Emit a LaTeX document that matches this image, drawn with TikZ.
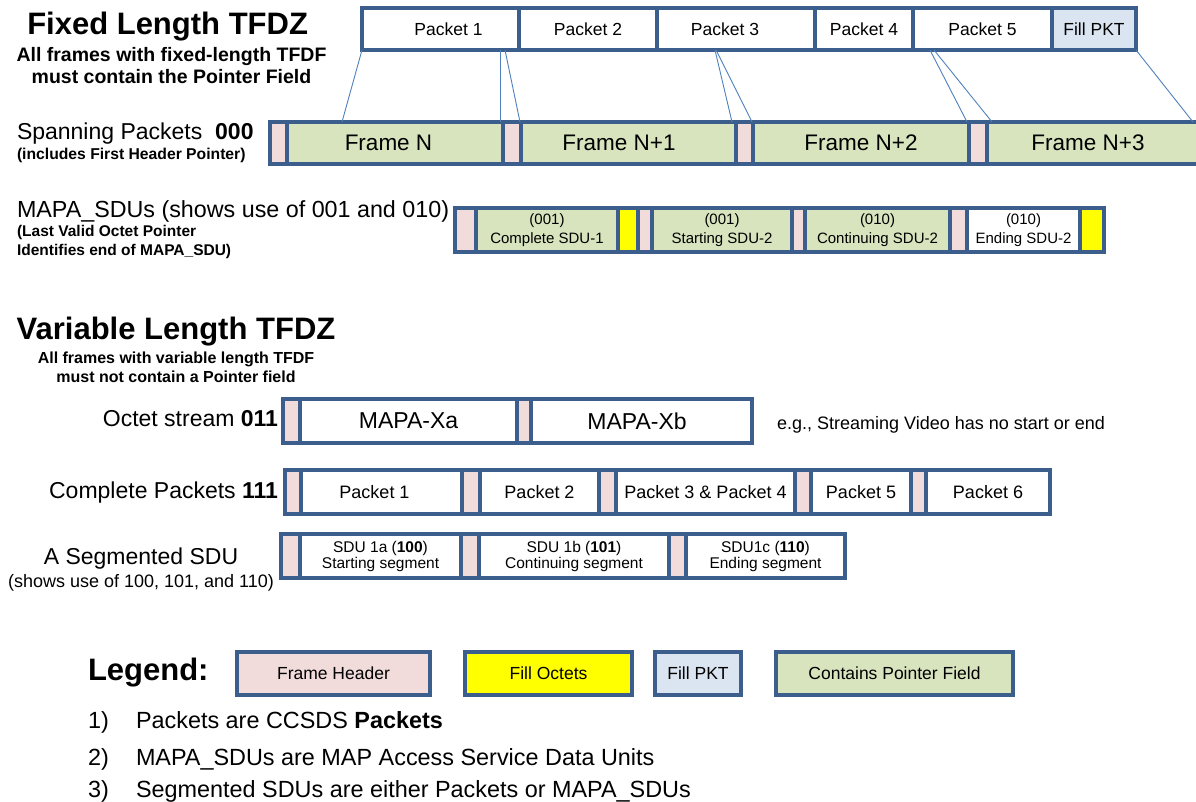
\documentclass[tikz,border=0pt]{standalone}
\usepackage{fontspec}
\setmainfont{Liberation Sans}
\usetikzlibrary{calc}

\definecolor{edge}{HTML}{3B5E8C}
\definecolor{hdrpink}{HTML}{F2DCDB}
\definecolor{ptrgreen}{HTML}{D7E4BD}
\definecolor{fillyel}{HTML}{FFFF00}
\definecolor{pktblue}{HTML}{DBE5F1}
\definecolor{linkblue}{HTML}{4F81BD}

\newcommand\fsz[2]{\fontsize{#1pt}{#2pt}\selectfont}
% \mkcell{style}{name}{x1}{x2}{y1}{y2}{text}
\newcommand\mkcell[7]{\node[#1,minimum width={#4-#3},minimum height={#6-#5}] (#2) at ({(#3+#4)/2},{(#5+#6)/2}) {#7};}

\tikzset{
  cell/.style={draw=edge, line width=3.5pt, inner sep=0pt, outer sep=0pt},
  hdr/.style={cell, fill=hdrpink},
  ptr/.style={cell, fill=ptrgreen},
  octs/.style={cell, fill=fillyel},
  fpkt/.style={cell, fill=pktblue},
  blank/.style={cell, fill=white},
  twoline/.style={align=center},
  lbl/.style={inner sep=0pt, outer sep=0pt},
  maplink/.style={draw=linkblue, line width=0.9pt},
}

\begin{document}
\begin{tikzpicture}[x=1pt,y=-1pt]
\fill[white] (0,0) rectangle (1196,802);
\useasboundingbox (0,0) rectangle (1196,802);

% ---------------- Fixed length section ----------------
\node[lbl, anchor=base, font=\bfseries\fsz{31}{37}] (fixT) at (167.6,35) {Fixed Length TFDZ};
\node[lbl, anchor=base, font=\bfseries\fsz{19.5}{23}] (fixS1) at (171.5,62) {All frames with fixed-length TFDF};
\node[lbl, anchor=base, font=\bfseries\fsz{19.5}{23}] (fixS2) at (171.5,84) {must contain the Pointer Field};

% packet stream
\mkcell{blank, font=\fsz{17.5}{21}}{pk1}{362}{519}{8}{50}{\kern16pt Packet 1}
\mkcell{blank, font=\fsz{17.5}{21}}{pk2}{519}{657}{8}{50}{Packet 2}
\mkcell{blank, font=\fsz{17.5}{21}}{pk3}{657}{815}{8}{50}{Packet 3\kern22pt}
\mkcell{blank, font=\fsz{17.5}{21}}{pk4}{815}{913}{8}{50}{Packet 4}
\mkcell{blank, font=\fsz{17.5}{21}}{pk5}{913}{1052}{8}{50}{Packet 5}
\mkcell{fpkt, font=\fsz{17.5}{21}}{pkf}{1052}{1136}{8}{50}{Fill PKT}

% spanning packets frames
\node[lbl, anchor=base west, font=\fsz{23}{27}] (spanL) at (17,140) {Spanning Packets\ \ \textbf{000}};
\node[lbl, anchor=base west, font=\bfseries\fsz{15.7}{18}] (spanS) at (17,160) {(includes First Header Pointer)};
\mkcell{hdr}{fh0}{270}{287}{122}{164}{}
\mkcell{ptr, font=\fsz{22.5}{27}}{fN}{287}{503}{122}{164}{Frame N\kern13pt}
\mkcell{hdr}{fh1}{503}{521}{122}{164}{}
\mkcell{ptr, font=\fsz{22.5}{27}}{fNa}{521}{736}{122}{164}{Frame N+1\kern19pt}
\mkcell{hdr}{fh2}{736}{753}{122}{164}{}
\mkcell{ptr, font=\fsz{22.5}{27}}{fNb}{753}{969}{122}{164}{Frame N+2}
\mkcell{hdr}{fh3}{969}{987}{122}{164}{}
\mkcell{ptr, font=\fsz{22.5}{27}}{fNc}{987}{1212}{122}{164}{Frame N+3\kern23pt}

% packet boundaries mapped into frames
\draw[maplink] (pk1.south west) -- ([xshift=55pt]fN.north west);
\draw[maplink] ([xshift=138pt]pk1.south west) -- ([xshift=-3pt]fN.north east);
\draw[maplink] ([xshift=143pt]pk1.south west) -- ([xshift=-1pt]fNa.north west);
\draw[maplink] ([xshift=58pt]pk3.south west) -- ([xshift=-4pt]fNa.north east);
\draw[maplink] ([xshift=59pt]pk3.south west) -- ([xshift=-1pt]fNb.north west);
\draw[maplink] ([xshift=17pt]pk5.south west) -- ([xshift=-2pt]fNb.north east);
\draw[maplink] ([xshift=21pt]pk5.south west) -- ([xshift=5pt]fNc.north west);
\draw[maplink] (pkf.south east) -- ([xshift=206pt]fNc.north west);

% MAPA_SDUs frame
\node[lbl, anchor=base west, font=\fsz{23.3}{27}] (mapaL) at (17,218) {MAPA\_SDUs (shows use of 001 and 010)};
\node[lbl, anchor=base west, font=\bfseries\fsz{15.5}{18}] (mapaS1) at (17,237) {(Last Valid Octet Pointer};
\node[lbl, anchor=base west, font=\bfseries\fsz{15.5}{18}] (mapaS2) at (17,256) {Identifies end of MAPA\_SDU)};
\mkcell{hdr}{m0}{455}{476}{208}{252}{}
\mkcell{ptr, twoline, font=\fsz{15}{19}}{m1}{476}{618}{208}{252}{(001)\\Complete SDU-1}
\mkcell{octs}{m2}{618}{638}{208}{252}{}
\mkcell{hdr}{m3}{638}{652}{208}{252}{}
\mkcell{ptr, twoline, font=\fsz{15}{19}}{m4}{652}{792}{208}{252}{(001)\\Starting SDU-2}
\mkcell{hdr}{m5}{792}{805}{208}{252}{}
\mkcell{ptr, twoline, font=\fsz{15}{19}}{m6}{805}{950}{208}{252}{(010)\\Continuing SDU-2}
\mkcell{hdr}{m7}{950}{967}{208}{252}{}
\mkcell{blank, twoline, font=\fsz{15}{19}}{m8}{967}{1080}{208}{252}{(010)\\Ending SDU-2}
\mkcell{octs}{m9}{1080}{1104}{208}{252}{}

% ---------------- Variable length section ----------------
\node[lbl, anchor=base, font=\bfseries\fsz{31}{37}] (varT) at (176,339) {Variable Length TFDZ};
\node[lbl, anchor=base, font=\bfseries\fsz{16}{19}] (varS1) at (176,363) {All frames with variable length TFDF};
\node[lbl, anchor=base, font=\bfseries\fsz{16}{19}] (varS2) at (176,382) {must not contain a Pointer field};

% octet stream
\node[lbl, anchor=base east, font=\fsz{23}{27}] (octL) at (278,426) {Octet stream \textbf{011}};
\mkcell{hdr}{o0}{283}{300}{399}{443}{}
\mkcell{blank, font=\fsz{23}{27}}{oa}{300}{517}{399}{443}{MAPA-Xa}
\mkcell{hdr}{o1}{517}{531}{399}{443}{}
\mkcell{blank, font=\fsz{23}{27}}{ob}{531}{752}{399}{443}{MAPA-Xb\kern9pt}
\node[lbl, anchor=base west, font=\fsz{18}{22}] (octN) at (777,429) {e.g., Streaming Video has no start or end};

% complete packets
\node[lbl, anchor=base east, font=\fsz{23}{27}] (cplL) at (278,498) {Complete Packets \textbf{111}};
\mkcell{hdr}{c0}{285}{301}{470}{514}{}
\mkcell{blank, font=\fsz{18}{22}}{cp1}{301}{462}{470}{514}{Packet 1\kern14pt}
\mkcell{hdr}{c1}{462}{480}{470}{514}{}
\mkcell{blank, font=\fsz{18}{22}}{cp2}{480}{599}{470}{514}{Packet 2}
\mkcell{hdr}{c2}{599}{616}{470}{514}{}
\mkcell{blank, font=\fsz{18}{22}}{cp3}{616}{795}{470}{514}{Packet 3 \& Packet 4}
\mkcell{hdr}{c3}{795}{811}{470}{514}{}
\mkcell{blank, font=\fsz{18}{22}}{cp5}{811}{911}{470}{514}{Packet 5}
\mkcell{hdr}{c4}{911}{926}{470}{514}{}
\mkcell{blank, font=\fsz{18}{22}}{cp6}{926}{1050}{470}{514}{Packet 6}

% segmented SDU
\node[lbl, anchor=base, font=\fsz{23}{27}] (segL) at (141,564) {A Segmented SDU};
\node[lbl, anchor=base, font=\fsz{18}{22}] (segS) at (141,587) {(shows use of 100, 101, and 110)};
\mkcell{hdr}{s0}{281}{300}{534}{578}{}
\mkcell{blank, twoline, font=\fsz{15.5}{16}}{s1}{300}{461}{534}{578}{SDU 1a (\textbf{100})\\Starting segment}
\mkcell{hdr}{s2}{461}{479}{534}{578}{}
\mkcell{blank, twoline, font=\fsz{15.5}{16}}{s3}{479}{669}{534}{578}{SDU 1b (\textbf{101})\\Continuing segment}
\mkcell{hdr}{s4}{669}{686}{534}{578}{}
\mkcell{blank, twoline, font=\fsz{15.5}{16}}{s5}{686}{845}{534}{578}{SDU1c (\textbf{110})\\Ending segment}

% ---------------- Legend ----------------
\node[lbl, anchor=base west, font=\bfseries\fsz{31}{36}] (legT) at (88,680) {Legend:};
\mkcell{hdr, font=\fsz{17.5}{21}}{lg1}{237}{430}{652}{695}{Frame Header}
\mkcell{octs, font=\fsz{17.5}{21}}{lg2}{465}{632}{652}{695}{Fill Octets}
\mkcell{fpkt, font=\fsz{17.5}{21}}{lg3}{655}{741}{652}{695}{Fill PKT}
\mkcell{ptr, font=\fsz{17.5}{21}}{lg4}{776}{1013}{652}{695}{Contains Pointer Field}

\node[lbl, anchor=base west, font=\fsz{23.4}{28}] (n1) at (88,728) {1)};
\node[lbl, anchor=base west, font=\fsz{23.4}{28}] (t1) at (136,728) {Packets are CCSDS \textbf{Packets}};
\node[lbl, anchor=base west, font=\fsz{23.4}{28}] (n2) at (88,765) {2)};
\node[lbl, anchor=base west, font=\fsz{23.4}{28}] (t2) at (136,765) {MAPA\_SDUs are MAP Access Service Data Units};
\node[lbl, anchor=base west, font=\fsz{23.4}{28}] (n3) at (88,797) {3)};
\node[lbl, anchor=base west, font=\fsz{23.4}{28}] (t3) at (136,797) {Segmented SDUs are either Packets or MAPA\_SDUs};
\end{tikzpicture}
\end{document}
